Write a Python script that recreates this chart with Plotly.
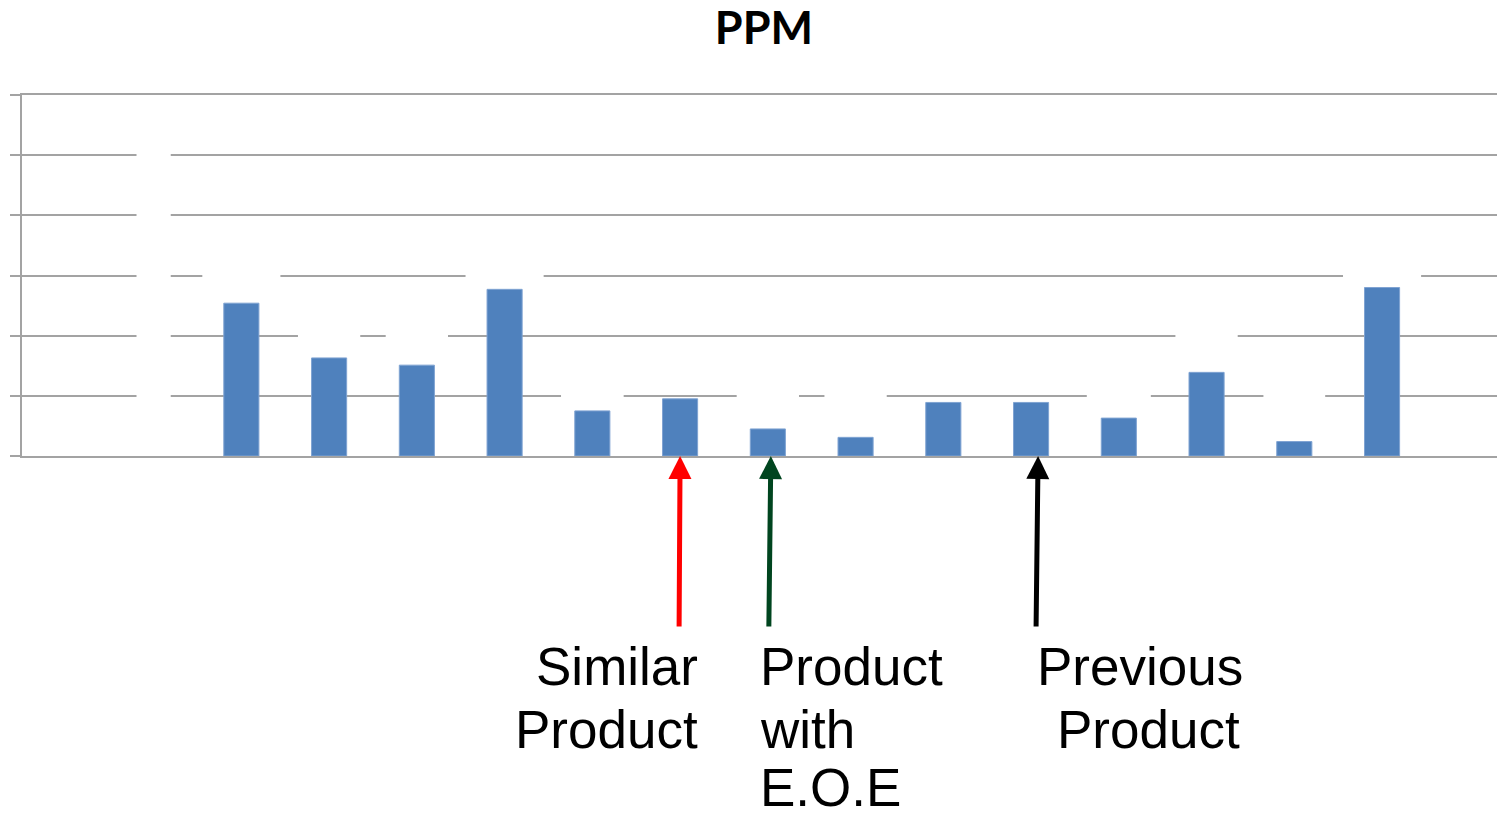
import plotly.graph_objects as go

# PPM per product slot (slots 0, 1 and 16 carry no value)
categories = [f"P{i + 1}" for i in range(17)]
ppm = [None, None, 2.54, 1.63, 1.51, 2.77, 0.75, 0.95, 0.45,
       0.31, 0.89, 0.89, 0.63, 1.39, 0.24, 2.80, None]

# call-outs: (category index, arrow colour)
callout_idx = [7, 8, 11]
callout_color = ["#FF0000", "#00451F", "#000000"]

# blank label boxes sitting on the grid: (category index, grid level, half width)
label_boxes = [
    (1, 1, 0.195), (1, 2, 0.195), (1, 3, 0.195), (1, 4, 0.195), (1, 5, 0.195),
    (2, 3, 0.445), (5, 3, 0.445), (15, 3, 0.445),
    (3, 2, 0.355), (4, 2, 0.355), (13, 2, 0.355),
    (6, 1, 0.357), (8, 1, 0.355), (9, 1, 0.355), (12, 1, 0.365), (14, 1, 0.352),
]

GRID = "#A3A3A3"
BAR = "#4F81BD"

fig = go.Figure(
    go.Bar(
        x=categories,
        y=ppm,
        width=0.40,
        marker=dict(color=BAR, line=dict(color="#7FA3D2", width=1)),
        hoverinfo="skip",
    )
)

shapes = []
for idx, level, half in label_boxes:
    shapes.append(dict(
        type="rect", xref="x", yref="y", layer="above",
        x0=idx - half, x1=idx + half, y0=level - 0.045, y1=level + 0.045,
        fillcolor="white", line=dict(width=0),
    ))

annotations = []
shifts = [(0, -1), (3, -2), (7, -2)]
for idx, col, (xs, axo) in zip(callout_idx, callout_color, shifts):
    annotations.append(dict(
        x=idx, y=0, xref="x", yref="y", xshift=xs,
        ax=axo, ay=172, axref="pixel", ayref="pixel",
        text="", showarrow=True, arrowhead=2, arrowsize=0.92,
        arrowwidth=5, arrowcolor=col, standoff=0,
    ))

LABEL_FONT = dict(family="Liberation Sans, Arial, sans-serif", size=53, color="#000000")


def py(px):
    # paper y for a pixel row below the plot area (plot spans rows 95..456)
    return (456 - px) / 361.0


labels = [
    ("Similar", 7, 19, "right", 666),
    ("Product", 7, 19, "right", 729),
    ("Product", 8, -9, "left", 666),
    ("with", 8, -9, "left", 729),
    ("E.O.E", 8, -9, "left", 787),
    ("Previous", 11, 109, "center", 666),
    ("Product", 11, 117, "center", 729),
]
for txt, idx, xs, anchor, row in labels:
    annotations.append(dict(
        x=idx, y=py(row), xref="x", yref="paper", xshift=xs,
        text=txt, showarrow=False, xanchor=anchor, yanchor="middle",
        borderpad=0, font=LABEL_FONT,
    ))

fig.update_layout(
    width=1497, height=817,
    margin=dict(l=22, r=0, t=95, b=361, pad=0),
    paper_bgcolor="white", plot_bgcolor="white",
    showlegend=False,
    title=dict(
        text="<b>PPM</b>", x=0.503, xref="paper", xanchor="center",
        y=1 - 28.4 / 817, yref="container", yanchor="middle",
        font=dict(family="Lato, Open Sans, sans-serif", size=45, color="#000000"),
    ),
    xaxis=dict(
        type="category", range=[-0.5, 16.31], showgrid=False,
        showline=True, mirror=True, linecolor=GRID, linewidth=2,
        ticks="", showticklabels=False, fixedrange=True,
    ),
    yaxis=dict(
        range=[0, 6], dtick=1, tick0=0, showgrid=True, gridcolor=GRID, gridwidth=2,
        showline=True, linecolor=GRID, linewidth=2, zeroline=False,
        ticks="outside", ticklen=10, tickwidth=2, tickcolor=GRID,
        showticklabels=False, fixedrange=True,
    ),
    shapes=shapes,
    annotations=annotations,
)

fig.write_html("out.html", config={"displayModeBar": False})
